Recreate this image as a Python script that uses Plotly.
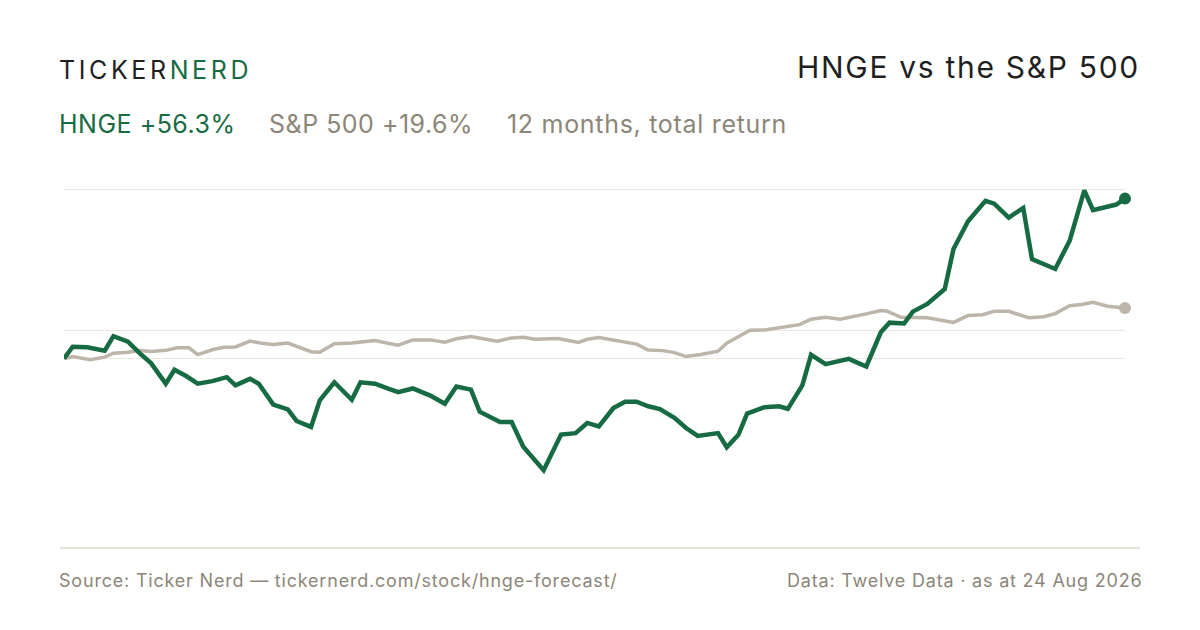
import pandas as pd
import plotly.graph_objects as go

# 12 months of total return, % vs start
start_date = "2025-08-24"

hnge_days = [0, 3, 8, 14, 17, 22, 26, 30, 35, 38, 42, 46, 51, 56, 59, 64, 67, 72, 77, 80,
             85, 88, 93, 99, 102, 107, 112, 115, 120, 126, 131, 135, 140, 143, 150, 154, 158, 165, 171, 176,
             180, 184, 189, 193, 197, 201, 205, 210, 214, 218, 225, 228, 232, 235, 241, 246, 249, 254, 257, 262,
             270, 276, 281, 284, 289, 292, 297, 303, 306, 311, 317, 320, 325, 330, 333, 341, 346, 351, 354, 359,
             362, 365]
hnge_ret = [0.0, 4.2, 4.0, 2.8, 7.9, 6.0, 1.9, -1.7, -8.9, -4.0, -6.2, -8.9, -8.0, -6.6, -9.5, -7.2, -8.9, -16.3, -18.0, -22.1,
            -24.2, -14.8, -8.4, -14.6, -8.4, -8.9, -10.8, -11.9, -10.6, -13.1, -16.0, -9.9, -11.0, -18.8, -22.5, -22.5, -31.2, -39.5, -26.9, -26.4,
            -22.8, -24.0, -17.5, -15.3, -15.3, -16.9, -17.9, -21.0, -24.6, -27.4, -26.4, -31.4, -27.0, -19.5, -17.2, -16.9, -17.8, -9.5, 1.3, -2.0,
            -0.1, -2.8, 9.3, 12.7, 12.4, 16.6, 19.3, 24.6, 38.8, 48.6, 55.8, 54.8, 49.9, 53.3, 35.2, 31.7, 41.8, 59.5, 52.5, 54.0,
            54.5, 56.6]

spx_days = [0, 3, 9, 14, 17, 22, 26, 30, 35, 39, 43, 46, 51, 55, 59, 64, 68, 72, 77, 81,
            85, 88, 93, 99, 103, 107, 111, 115, 120, 126, 131, 135, 140, 144, 149, 154, 158, 162, 166, 170,
            177, 180, 184, 189, 192, 197, 201, 206, 210, 214, 219, 225, 228, 232, 236, 241, 247, 253, 257, 262,
            267, 272, 276, 281, 283, 288, 297, 306, 311, 316, 320, 325, 332, 337, 341, 346, 350, 354, 359, 365]
spx_ret = [0.0, 0.7, -0.4, 0.5, 1.9, 2.2, 2.8, 2.5, 2.9, 3.8, 3.8, 1.4, 3.1, 4.0, 4.1, 6.2, 5.4, 5.0, 5.5, 3.8,
           2.4, 2.2, 5.2, 5.5, 6.1, 6.4, 5.5, 4.7, 6.6, 6.6, 5.8, 7.0, 7.8, 7.0, 6.1, 7.3, 7.5, 6.8, 6.8, 7.1,
           5.7, 6.8, 7.4, 6.5, 5.7, 5.1, 3.0, 2.8, 2.1, 0.7, 1.4, 2.6, 5.4, 7.7, 10.0, 10.1, 10.9, 12.0, 13.9, 14.6,
           13.9, 14.8, 15.8, 17.0, 16.8, 14.6, 14.4, 12.8, 15.2, 15.5, 16.7, 16.7, 14.4, 14.8, 15.9, 18.7, 19.1, 19.9, 18.5, 17.9]

grid_vals = [0, 10, 60]

GREEN = "#176b43"
SAND = "#bdb5aa"
MUTED = "#8c8679"
INK = "#1f1f1f"
FONT = "Inter, 'Liberation Sans', sans-serif"

# plot box in pixels
L, R, T, B = 64, 1125, 180, 548


def px(x):
    return (x - L) / (R - L)


def py(y):
    return (B - y) / (B - T)


t0 = pd.Timestamp(start_date)
hnge_x = t0 + pd.to_timedelta(hnge_days, unit="D")
spx_x = t0 + pd.to_timedelta(spx_days, unit="D")

fig = go.Figure()

fig.add_trace(go.Scatter(x=spx_x, y=spx_ret, mode="lines",
                         line=dict(color=SAND, width=3.5), cliponaxis=False))
fig.add_trace(go.Scatter(x=hnge_x, y=hnge_ret, mode="lines",
                         line=dict(color=GREEN, width=4.5), cliponaxis=False))
# end dots
fig.add_trace(go.Scatter(x=[spx_x[-1]], y=[spx_ret[-1]], mode="markers",
                         marker=dict(color=SAND, size=12), cliponaxis=False))
fig.add_trace(go.Scatter(x=[hnge_x[-1]], y=[hnge_ret[-1]], mode="markers",
                         marker=dict(color=GREEN, size=12), cliponaxis=False))

fig.update_layout(
    width=1200, height=630,
    margin=dict(l=L, r=1200 - R, t=T, b=630 - B),
    paper_bgcolor="white", plot_bgcolor="white",
    showlegend=False,
    hovermode=False,
    font=dict(family=FONT, color=INK),
    xaxis=dict(range=[t0, t0 + pd.Timedelta(days=365)], showgrid=False,
               showticklabels=False, zeroline=False, showline=False, ticks=""),
    yaxis=dict(range=[-67.06, 63.19], tickvals=grid_vals, showticklabels=False,
               gridcolor="#ebe8e2", gridwidth=1, zeroline=False, showline=False, ticks=""),
)

# baseline under the plot
fig.add_shape(type="line", xref="paper", yref="paper",
              x0=px(60), x1=px(1140), y0=0, y1=0,
              line=dict(color="#dcd8cd", width=1.5))


def sp(txt, ls, color=None):
    style = f"letter-spacing:{ls}px"
    if color:
        style += f";color:{color}"
    return f"<span style='{style}'>{txt}</span>"


notes = [
    # brand
    dict(text=sp("TICKER", 3.6) + sp("NERD", 3.6, GREEN),
         x=px(57), y=py(70), xanchor="left", font=dict(size=25, color=INK)),
    # title
    dict(text=sp("HNGE vs the S&P 500", 1.7), x=px(1142), y=py(67), xanchor="right",
         font=dict(size=30, color=INK)),
    # subtitle pieces
    dict(text=sp("HNGE +56.3%", 0.5), x=px(57), y=py(124), xanchor="left",
         font=dict(size=25, color=GREEN)),
    dict(text=sp("S&P 500 +19.6%", 0.5), x=px(267), y=py(124), xanchor="left",
         font=dict(size=25, color=MUTED)),
    dict(text=sp("12 months, total return", 0.7), x=px(505), y=py(124), xanchor="left",
         font=dict(size=25, color=MUTED)),
    # footer
    dict(text=sp("Source: Ticker Nerd — tickernerd.com/stock/hnge-forecast/", 0.8),
         x=px(57), y=py(580), xanchor="left", font=dict(size=18, color=MUTED)),
    dict(text=sp("Data: Twelve Data · as at 24 Aug 2026", 0.8), x=px(1144), y=py(580),
         xanchor="right", font=dict(size=18, color=MUTED)),
]
for n in notes:
    fig.add_annotation(xref="paper", yref="paper", yanchor="middle", showarrow=False, **n)

fig.write_html("out.html", config={"displayModeBar": False},
               post_script="document.body.style.margin='0';")
